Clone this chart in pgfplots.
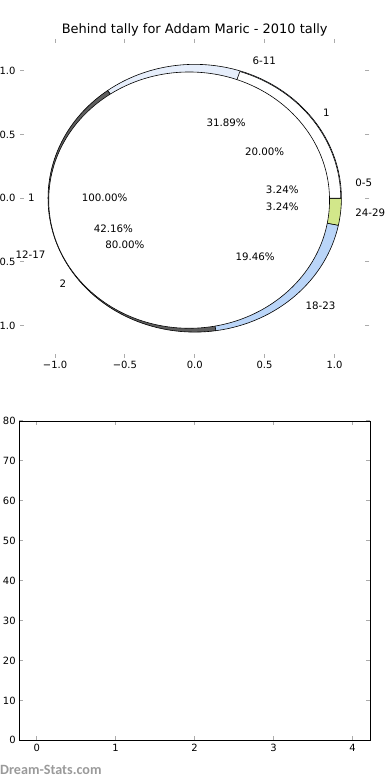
\documentclass[border=0pt]{standalone}
\usepackage{pgfplots}
\pgfplotsset{compat=1.18}
\usepackage{fontspec}
\setmainfont{DejaVu Sans}
\newfontfamily\wmfont{Carlito}
\definecolor{c05}{HTML}{FFFFFF}
\definecolor{c611}{HTML}{E6EEFB}
\definecolor{c1217}{HTML}{5E5E5E}
\definecolor{c1823}{HTML}{BAD5F8}
\definecolor{c2429}{HTML}{D2E78A}
\definecolor{tickgray}{HTML}{ABABAB}
\definecolor{wmgray}{HTML}{9A9A9A}
\newcommand{\lab}{\fontsize{10.3}{12}\selectfont}
% data (percent shares)
\def\pA{3.24}\def\pB{31.89}\def\pC{42.16}\def\pD{19.46}\def\pE{3.24}
\def\mA{20.00}\def\mB{80.00}
\pgfmathsetmacro{\tot}{\pA+\pB+\pC+\pD+\pE}
\pgfmathsetmacro{\aA}{360*\pA/\tot}
\pgfmathsetmacro{\aB}{\aA+360*\pB/\tot}
\pgfmathsetmacro{\aC}{\aB+360*\pC/\tot}
\pgfmathsetmacro{\aD}{\aC+360*\pD/\tot}
\pgfmathsetmacro{\mAng}{360*\mA/(\mA+\mB)}
% slice: center x, center y, radius, start, end, colour
\newcommand{\pieslice}[6]{%
  \filldraw[fill=#6, draw=black, line width=0.6bp, line join=round]
    (axis cs:#1,#2) -- (axis cs:{#1+#3*cos(#4)},{#2+#3*sin(#4)})
    arc[start angle=#4, end angle=#5, x radius=#3*139.7bp, y radius=#3*127.5bp] -- cycle;}
\newcommand{\plab}[4]{% radius, angle, anchor, text
  \node[anchor=#3, inner sep=0pt, font=\lab] at (axis cs:{#1*cos(#2)},{#1*sin(#2)}) {#4};}
\begin{document}
\begin{tikzpicture}
\path[use as bounding box] (0,0) rectangle (390bp,780bp);
\begin{axis}[
  at={(20.1bp,422.4bp)}, anchor=south west,
  x=139.7bp, y=127.5bp,
  xmin=-1.25, xmax=1.25, ymin=-1.25, ymax=1.25,
  axis line style={draw=none},
  tick align=inside, major tick length=4bp,
  tick style={color=tickgray, line width=1bp},
  xtick={-1,-0.5,0,0.5,1}, ytick={-1,-0.5,0,0.5,1},
  xticklabels={−1.0,−0.5,0.0,0.5,1.0},
  yticklabels={−1.0,−0.5,0.0,0.5,1.0},
  tick label style={font=\fontsize{10}{12}\selectfont, inner sep=0pt},
  xticklabel style={yshift=-3.7bp},
  yticklabel style={xshift=-4.5bp},
  clip=false,
]
% outer ring
\pieslice{0}{0}{1.05}{0}{\aA}{c05}
\pieslice{0}{0}{1.05}{\aA}{\aB}{c611}
\pieslice{0}{0}{1.05}{\aB}{\aC}{c1217}
\pieslice{0}{0}{1.05}{\aC}{\aD}{c1823}
\pieslice{0}{0}{1.05}{\aD}{360}{c2429}
% middle ring, first slice
\pieslice{0}{0}{1.045}{0}{\mAng}{white}
% inner pie (100%)
\filldraw[fill=white, draw=black, line width=0.6bp] (axis cs:-0.04,-0.015) ellipse [x radius=1.005*139.7bp, y radius=1.005*127.5bp];
% outer labels
\plab{1.155}{\aA/2}{west}{0-5}
\plab{1.155}{(\aA+\aB)/2}{west}{6-11}
\plab{1.155}{(\aB+\aC)/2}{east}{12-17}
\plab{1.155}{(\aC+\aD)/2}{west}{18-23}
\plab{1.155}{(\aD+360)/2}{west}{24-29}
\plab{0.63}{\aA/2}{center}{3.24\%}
\plab{0.63}{(\aA+\aB)/2}{center}{31.89\%}
\plab{0.63}{(\aB+\aC)/2}{center}{42.16\%}
\plab{0.63}{(\aC+\aD)/2}{center}{19.46\%}
\plab{0.63}{(\aD+360)/2}{center}{3.24\%}
% middle labels
\plab{1.135}{\mAng/2}{west}{1}
\plab{1.135}{(\mAng+360)/2}{east}{2}
\plab{0.618}{\mAng/2}{center}{20.00\%}
\plab{0.618}{(\mAng+360)/2}{center}{80.00\%}
% inner labels
\plab{1.144}{180}{east}{1}
\plab{0.645}{180}{center}{100.00\%}
\end{axis}
\node[anchor=base, inner sep=0pt, font=\fontsize{13}{15}\selectfont] at (194.7bp,746.5bp) {Behind tally for Addam Maric - 2010 tally};
\begin{axis}[
  at={(19.3bp,39.7bp)}, anchor=south west,
  width=350.7bp, height=319.3bp, scale only axis,
  xmin=-0.22, xmax=4.22, ymin=0, ymax=80,
  xtick={0,1,2,3,4}, ytick={0,10,20,30,40,50,60,70,80},
  axis line style={black, line width=0.8bp},
  tick align=inside, major tick length=4bp,
  tick style={color=tickgray, line width=1bp},
  /pgf/number format/assume math mode=true,
  tick label style={font=\fontsize{10}{12}\selectfont, inner sep=0pt},
  xticklabel style={yshift=-4bp},
  yticklabel style={xshift=-3.5bp},
]
\addplot[draw=none, forget plot] coordinates {(0,0)};
\end{axis}
\node[anchor=base west, inner sep=0pt, font=\wmfont\bfseries\fontsize{14.2}{16}\selectfont, text=wmgray] at (0bp,6bp) {Dream-Stats.com};
\end{tikzpicture}
\end{document}
